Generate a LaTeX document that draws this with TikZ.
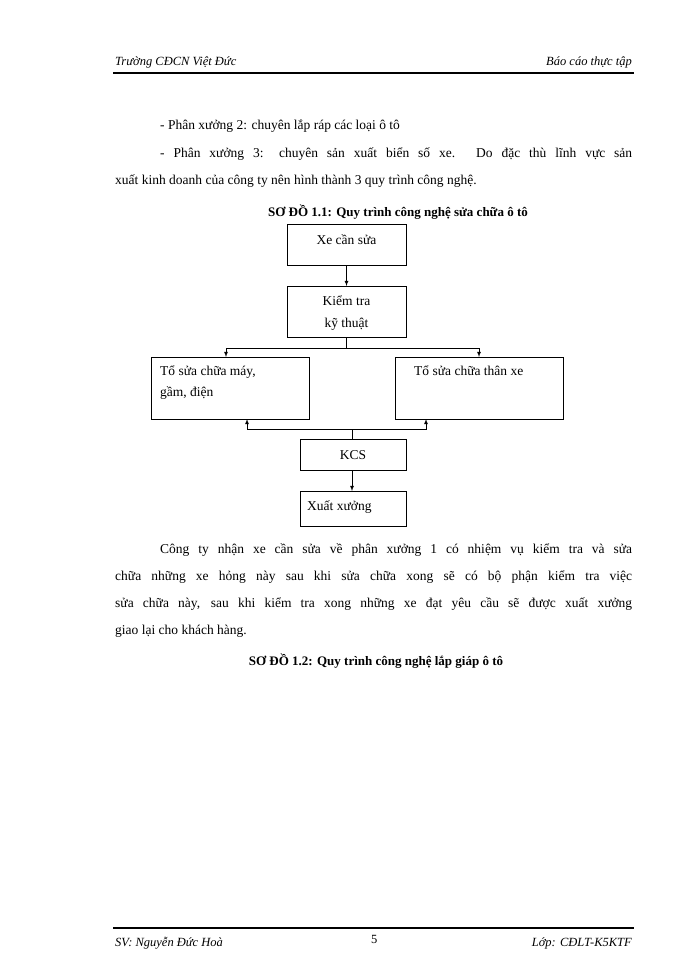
\documentclass[tikz,border=0pt]{standalone}
\usepackage{fontspec}
\setmainfont{Liberation Serif}
\begin{document}
\begin{tikzpicture}[x=1pt,y=-1pt,
  box/.style={draw,thick,rectangle,inner sep=0pt},
  txt/.style={inner sep=0pt,anchor=base west,font=\fontsize{13.5}{16}\selectfont},
  arr/.style={thick,-latex}]
\useasboundingbox (0,0) rectangle (700,960);
\fill[white] (0,0) rectangle (700,960);
% header / footer
\node[txt,font=\itshape\fontsize{12.5}{15}\selectfont] (h1) at (115,66) {Trường CĐCN Việt Đức};
\node[txt,anchor=base east,font=\itshape\fontsize{12.5}{15}\selectfont] (h2) at (632,66) {Báo cáo thực tập};
\draw[line width=1.6pt] (113,73) -- (634,73);
\draw[line width=1.2pt] (113,928) -- (634,928);
\node[txt,font=\itshape\fontsize{12.5}{15}\selectfont] (f1) at (115,946) {SV: Nguyễn Đức Hoà};
\node[txt,font=\fontsize{12.5}{15}\selectfont] (f2) at (371,943) {5};
\node[txt,anchor=base east,font=\itshape\fontsize{12.5}{15}\selectfont] (f3) at (632,946) {Lớp: CĐLT-K5KTF};
% body text
\node[txt] (l1) at (160,130) {- Phân xưởng 2: chuyên lắp ráp các loại ô tô};
\node[txt] (l2) at (160,158) {\makebox[472pt][s]{- Phân xưởng 3: chuyên sản xuất biển số xe. Do đặc thù lĩnh vực sản}};
\node[txt] (l3) at (115,185) {xuất kinh doanh của công ty nên hình thành 3 quy trình công nghệ.};
\node[txt,anchor=base,font=\bfseries\fontsize{13}{16}\selectfont] (t1) at (398,216) {SƠ ĐỒ 1.1: Quy trình công nghệ sửa chữa ô tô};
\node[txt] (p1) at (160,553) {\makebox[472pt][s]{Công ty nhận xe cần sửa về phân xưởng 1 có nhiệm vụ kiểm tra và sửa}};
\node[txt] (p2) at (115,580) {\makebox[517pt][s]{chữa những xe hỏng này sau khi sửa chữa xong sẽ có bộ phận kiểm tra việc}};
\node[txt] (p3) at (115,607) {\makebox[517pt][s]{sửa chữa này, sau khi kiểm tra xong những xe đạt yêu cầu sẽ được xuất xưởng}};
\node[txt] (p4) at (115,634) {giao lại cho khách hàng.};
\node[txt,anchor=base,font=\bfseries\fontsize{13}{16}\selectfont] (t2) at (376,665) {SƠ ĐỒ 1.2: Quy trình công nghệ lắp giáp ô tô};
% diagram boxes
\draw[thick] (287,224) rectangle (406,265);
\node[txt,anchor=base] (b1) at (346.5,244) {Xe cần sửa};
\coordinate (b1s) at (346.5,265);
\draw[thick] (287,286) rectangle (406,337);
\node[txt,anchor=base,align=center] (b2) at (346.5,305) {Kiểm tra};
\node[txt,anchor=base] (b2b) at (346.5,327) {kỹ thuật};
\coordinate (b2n) at (346.5,286);
\coordinate (b2s) at (346.5,337);
\draw[thick] (151,357) rectangle (309,419);
\node[txt] (b3) at (160,375) {Tổ sửa chữa máy,};
\node[txt] (b3b) at (160,396) {gầm, điện};
\draw[thick] (395,357) rectangle (563,419);
\node[txt] (b4) at (414,375) {Tổ sửa chữa thân xe};
\draw[thick] (300,439) rectangle (406,470);
\node[txt,anchor=base] (b5) at (353,459) {KCS};
\draw[thick] (300,491) rectangle (406,526);
\node[txt] (b6) at (307,510) {Xuất xưởng};
\coordinate (sp) at (346.5,348);
\coordinate (lt) at (226,357);
\coordinate (rt) at (479,357);
\coordinate (jn) at (352,429);
\coordinate (lb) at (247,419);
\coordinate (rb) at (426,419);
\draw[arr] (b1s) -- (b2n);
\draw[thick] (b2s) -- (sp);
\draw[arr] (sp) -| (lt);
\draw[arr] (sp) -| (rt);
\draw[thick] (352,439) -- (jn);
\draw[arr] (jn) -| (lb);
\draw[arr] (jn) -| (rb);
\draw[arr] (352,470) -- (352,491);
\end{tikzpicture}
\end{document}
